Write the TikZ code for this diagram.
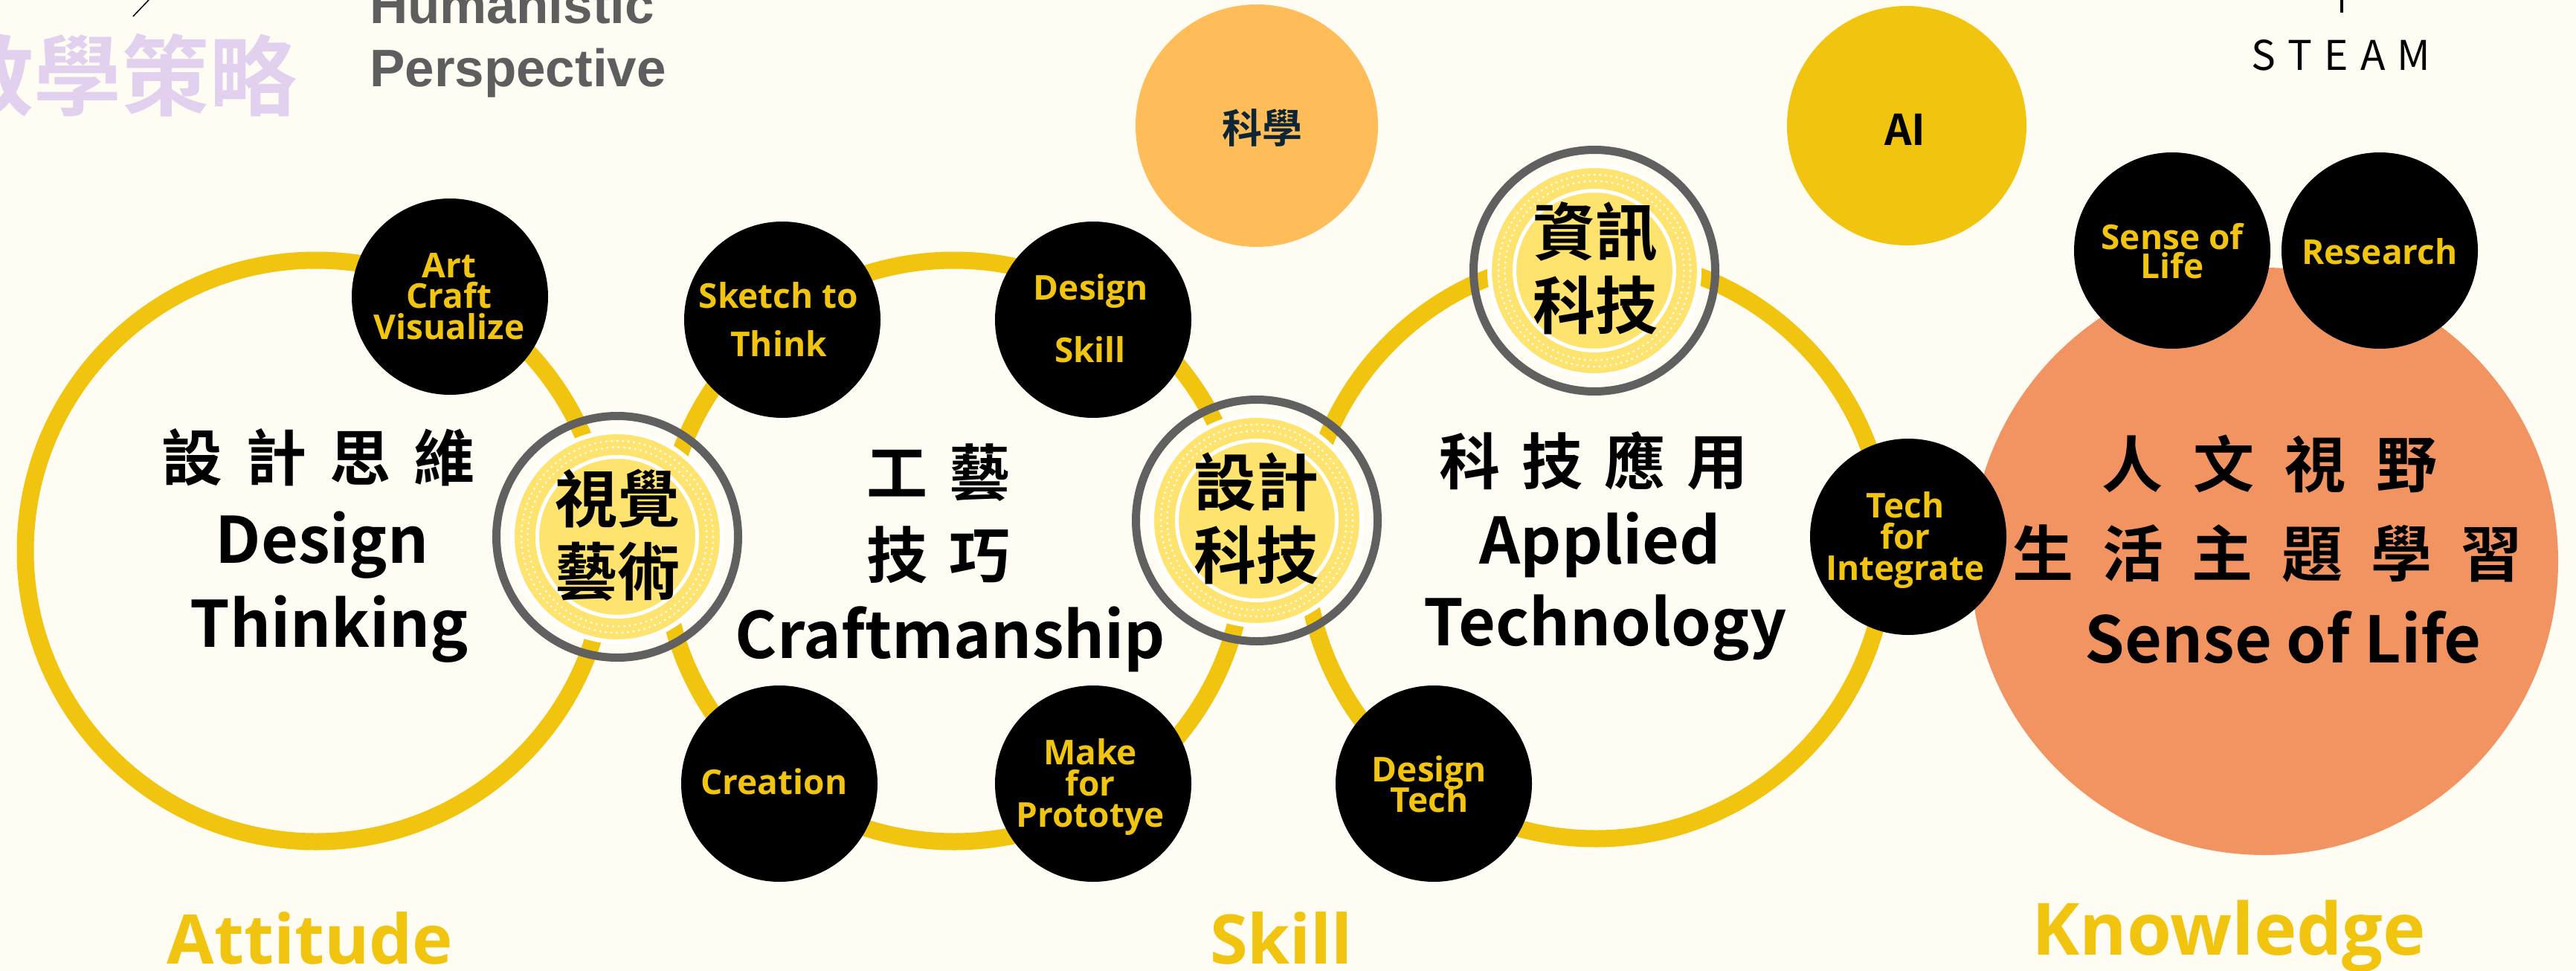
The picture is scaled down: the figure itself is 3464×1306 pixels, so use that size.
\documentclass[tikz,border=0pt]{standalone}
\usepackage{fontspec}
\newfontfamily\cjk{Noto Sans CJK TC}[BoldFont={Noto Sans CJK TC Bold}]
\newfontfamily\osans{Open Sans}
\newfontfamily\lsans{Liberation Sans}
\definecolor{bg}{HTML}{FFFCF4}
\definecolor{ringY}{HTML}{F1C40F}
\definecolor{badgeY}{HTML}{FFE36F}
\definecolor{grayR}{HTML}{606060}
\definecolor{grayT}{HTML}{5E5E5E}
\definecolor{sciO}{HTML}{FFBD59}
\definecolor{orangeC}{HTML}{F19461}
\definecolor{lav}{HTML}{E1D1EF}
\definecolor{navy}{HTML}{0D2535}
\tikzset{
  badge/.pic={
    \draw[grayR, line width=11pt] (0,0) circle[radius=162.5pt];
    \draw[white, line width=6pt, fill=badgeY] (0,0) circle[radius=141pt];
    \draw[white, line width=3.2pt, line cap=round, dash pattern=on 0pt off 7.5pt] (0,0) circle[radius=129pt];
    \draw[white, line width=3.2pt, line cap=round, dash pattern=on 0pt off 7.5pt] (0,0) circle[radius=120.5pt];
    \draw[white, line width=5pt] (0,0) circle[radius=107.5pt];
  }
}
\begin{document}
\begin{tikzpicture}[x=1pt,y=-1pt,
  ring/.style={draw=ringY, line width=23pt},
  blk/.style={circle, fill=black, inner sep=0pt, minimum size=264pt},
  ylab/.style={text=ringY, font=\osans\bfseries\fontsize{46}{46}\selectfont, inner sep=0pt, anchor=base},
  big/.style={font=\cjk\bfseries\fontsize{86}{86}\selectfont, inner sep=0pt, anchor=base},
  bigc/.style={font=\cjk\bfseries\fontsize{82}{82}\selectfont, inner sep=0pt, anchor=base},
  badgetxt/.style={font=\cjk\bfseries\fontsize{84}{84}\selectfont, inner sep=0pt, anchor=base},
  cat/.style={text=ringY, font=\osans\bfseries\fontsize{92}{92}\selectfont, inner sep=0pt, anchor=base},
]
\fill[bg] (0,0) rectangle (3464,1306);
\useasboundingbox (0,0) rectangle (3464,1306);

% top-left
\node[font=\cjk\bfseries\fontsize{118}{118}\selectfont, text=lav, anchor=base east, inner sep=0pt] (ttl) at (400,146) {教學策略};
\node[font=\lsans\bfseries\fontsize{71}{71}\selectfont, text=grayT, anchor=base west, inner sep=0pt] (hp1) at (497,32) {Humanistic};
\node[font=\lsans\bfseries\fontsize{71}{71}\selectfont, text=grayT, anchor=base west, inner sep=0pt] (hp2) at (497,116) {Perspective};
\coordinate (dg1) at (200,0);
\coordinate (dg2) at (179,22);
\draw[line width=1.5pt] (dg1) -- (dg2);

% top-right
\coordinate (tk1) at (3149,0);
\coordinate (tk2) at (3149,17);
\draw[line width=4pt] (tk1) -- (tk2);
\node[font=\cjk\fontsize{55}{55}\selectfont, anchor=base, inner sep=0pt] (steam) at (3148,94) {S\hspace{16pt}T\hspace{16pt}E\hspace{16pt}A\hspace{16pt}M};

% top circles
\node[circle, fill=sciO, minimum size=326pt, inner sep=0pt] (scic) at (1690,169) {};
\node[font=\cjk\bfseries\fontsize{54}{54}\selectfont, text=navy, anchor=base, inner sep=0pt] (sci) at (1697,192) {科學};
\node[circle, fill=ringY, minimum size=322pt, inner sep=0pt] (aic) at (2564,169) {};
\node[font=\cjk\bfseries\fontsize{57}{57}\selectfont, anchor=base, inner sep=0pt] (ai) at (2562,195) {AI};

% orange circle
\node[circle, fill=orangeC, minimum size=790pt, inner sep=0pt] (solc) at (3045,755) {};

% rings
\draw[ring] (425,741) circle[radius=391pt];
\draw[ring] (1283,741) circle[radius=391pt];
\draw[ring] (2146,737) circle[radius=391pt];

% badges
\pic at (830,722) {badge};
\pic at (1690,700) {badge};
\pic at (2144,364) {badge};
\node[badgetxt] (b1a) at (830,702) {視覺};
\node[badgetxt] (b1b) at (830,800) {藝術};
\node[badgetxt] (b2a) at (1689,680) {設計};
\node[badgetxt] (b2b) at (1689,778) {科技};
\node[badgetxt] (b3a) at (2145,343) {資訊};
\node[badgetxt] (b3b) at (2145,442) {科技};

% black circles
\node[blk] (acv) at (605,399) {};
\node[blk] (stt) at (1052,430) {};
\node[blk] (dsk) at (1470,430) {};
\node[blk] (cre) at (1048,1054) {};
\node[blk] (mfp) at (1470,1054) {};
\node[blk] (dtc) at (1928,1054) {};
\node[blk] (tfi) at (2566,722) {};
\node[blk] (slc) at (2921,337) {};
\node[blk] (res) at (3200,337) {};

\node[ylab] (acv1) at (604,373) {Art};
\node[ylab] (acv2) at (604,414) {Craft};
\node[ylab] (acv3) at (604,456) {Visualize};
\node[ylab] (stt1) at (1047,414) {Sketch to};
\node[ylab] (stt2) at (1047,479) {Think};
\node[ylab] (dsk1) at (1467,403) {Design};
\node[ylab] (dsk2) at (1466,487) {Skill};
\node[ylab] (cre1) at (1041,1068) {Creation};
\node[ylab] (mfp1) at (1466,1028) {Make};
\node[ylab] (mfp2) at (1466,1070) {for};
\node[ylab] (mfp3) at (1466,1112) {Prototye};
\node[ylab] (dtc1) at (1922,1051) {Design};
\node[ylab] (dtc2) at (1922,1092) {Tech};
\node[ylab] (tfi1) at (2562,696) {Tech};
\node[ylab] (tfi2) at (2562,738) {for};
\node[ylab] (tfi3) at (2562,780) {Integrate};
\node[ylab] (sl1) at (2921,335) {Sense of};
\node[ylab] (sl2) at (2921,374) {Life};
\node[ylab] (res1) at (3200,355) {Research};

% main labels
\node[bigc] (dt0) at (428,646) {設\hspace{0.38em}計\hspace{0.38em}思\hspace{0.38em}維};
\node[big] (dt1) at (433,757) {Design};
\node[big] (dt2) at (443,870) {Thinking};
\node[bigc] (cr0) at (1262,666) {工\hspace{0.36em}藝};
\node[bigc] (cr1) at (1262,777) {技\hspace{0.36em}巧};
\node[big] (cr2) at (1278,885) {Craftmanship};
\node[bigc] (at0) at (2143,651) {科\hspace{0.35em}技\hspace{0.35em}應\hspace{0.35em}用};
\node[big] (at1) at (2152,758) {Applied};
\node[big] (at2) at (2159,868) {Technology};
\node[bigc] (sl0) at (3052,655) {人\hspace{0.5em}文\hspace{0.5em}視\hspace{0.5em}野};
\node[bigc] (sl3) at (3049,775) {生\hspace{0.47em}活\hspace{0.47em}主\hspace{0.47em}題\hspace{0.47em}學\hspace{0.47em}習};
\node[big] (sl4) at (3070,891) {Sense of Life};

% categories
\node[cat] (att) at (417,1296) {Attitude};
\node[cat] (skl) at (1723,1296) {Skill};
\node[cat, font=\osans\bfseries\fontsize{97}{97}\selectfont] (knw) at (2997,1284) {Knowledge};
\end{tikzpicture}
\end{document}
